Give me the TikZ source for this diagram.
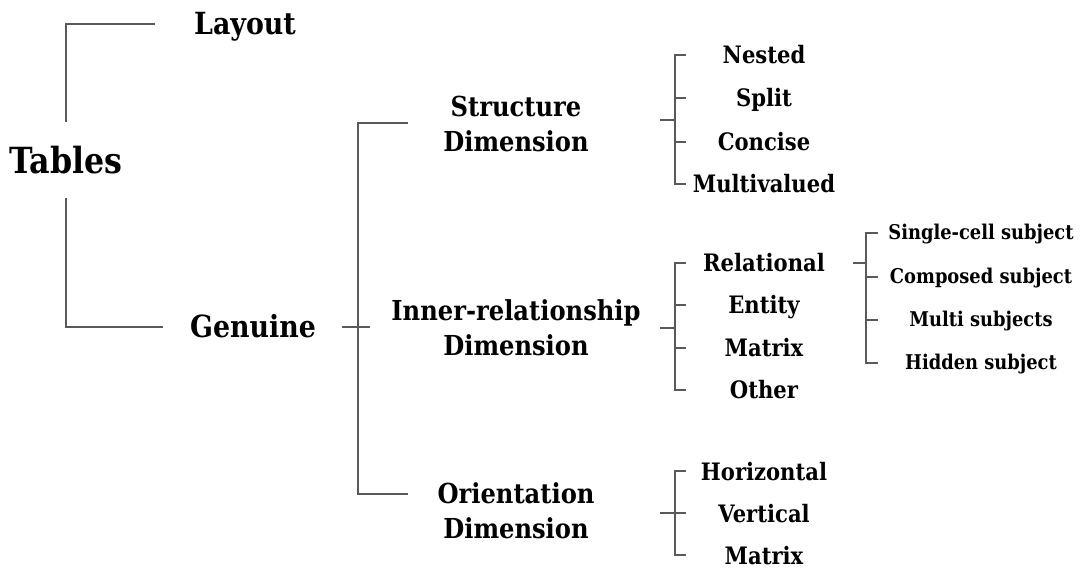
\documentclass[tikz,border=0pt]{standalone}
\usepackage{fontspec}
\setmainfont{DejaVu Serif}[FakeStretch=0.88]
\usetikzlibrary{positioning}

\begin{document}
\begin{tikzpicture}[x=1pt,y=-1pt,
  link/.style={draw=black!65,line width=1.1pt},
  rootlbl/.style={font=\fontsize{36}{40}\selectfont\bfseries,inner sep=0pt},
  kindlbl/.style={font=\fontsize{30.5}{32}\selectfont\bfseries,inner sep=0pt},
  dimlbl/.style={font=\fontsize{27.5}{35}\selectfont\bfseries,align=center,inner sep=0pt},
  leaf/.style={font=\fontsize{24}{28}\selectfont\bfseries,inner sep=0pt,anchor=base},
  subleaf/.style={font=\fontsize{20.3}{22}\selectfont\bfseries,inner sep=0pt,anchor=base}]
\useasboundingbox (0,0) rectangle (1085,569);

\node[rootlbl] (tab) at (66,160) {Tables};
\node[kindlbl,anchor=base] (lay) at (245,35) {Layout};
\node[kindlbl,anchor=base] (gen) at (253,338) {Genuine};

\node[dimlbl] (str) at (516,124) {Structure\\Dimension};
\node[dimlbl] (inr) at (516,328) {Inner-relationship\\Dimension};
\node[dimlbl] (ori) at (516,511) {Orientation\\Dimension};

\foreach \n/\t/\y in {nested/Nested/55, split/Split/98, concise/Concise/142, multi/Multivalued/184,
  relational/Relational/263, entity/Entity/305, matrixa/Matrix/348, other/Other/390,
  horizontal/Horizontal/471, vertical/Vertical/513, matrixb/Matrix/555} {
\node[leaf] (\n) at (764,\y+9) {\t};
\coordinate (\n-t) at (686,\y);
}

\foreach \n/\t/\y in {single/Single-cell subject/233, composed/Composed subject/277,
  multisub/Multi subjects/320, hidden/Hidden subject/363} {
\node[subleaf] (\n) at (981,\y+7) {\t};
\coordinate (\n-t) at (878,\y);
}

% bracket ends
\coordinate (tabup) at (66,122);
\coordinate (tabdn) at (66,198);
\coordinate (layin) at (155,24);
\coordinate (genin) at (163,327);
\coordinate (genout) at (342,327);
\coordinate (gencross) at (370,327);
\coordinate (strin) at (408,123);
\coordinate (oriin) at (408,494);
\coordinate (g-bot) at (358,494);
\coordinate (s-bot) at (675,184);
\coordinate (i-bot) at (675,390);
\coordinate (o-bot) at (675,555);
\coordinate (r-bot) at (866,363);
\coordinate (str-o) at (660,120);
\coordinate (inr-o) at (660,328);
\coordinate (ori-o) at (660,513);
\coordinate (rel-o) at (853,263);

\draw[link] (tabup) |- (layin);
\draw[link] (tabdn) |- (genin);
\draw[link] (strin) -| (g-bot) -- (oriin);
\draw[link] (genout) -- (gencross);

\foreach \a/\b/\s/\o in {nested/multi/s-bot/str-o, relational/other/i-bot/inr-o,
  horizontal/matrixb/o-bot/ori-o, single/hidden/r-bot/rel-o} {
\draw[link] (\a-t) -| (\s) -- (\b-t);
\draw[link] (\o) -- (\o -| \s);
}
\foreach \m/\s in {split/s-bot, concise/s-bot, entity/i-bot, matrixa/i-bot,
  vertical/o-bot, composed/r-bot, multisub/r-bot} {
\draw[link] (\m-t) -- (\m-t -| \s);
}
\end{tikzpicture}
\end{document}
